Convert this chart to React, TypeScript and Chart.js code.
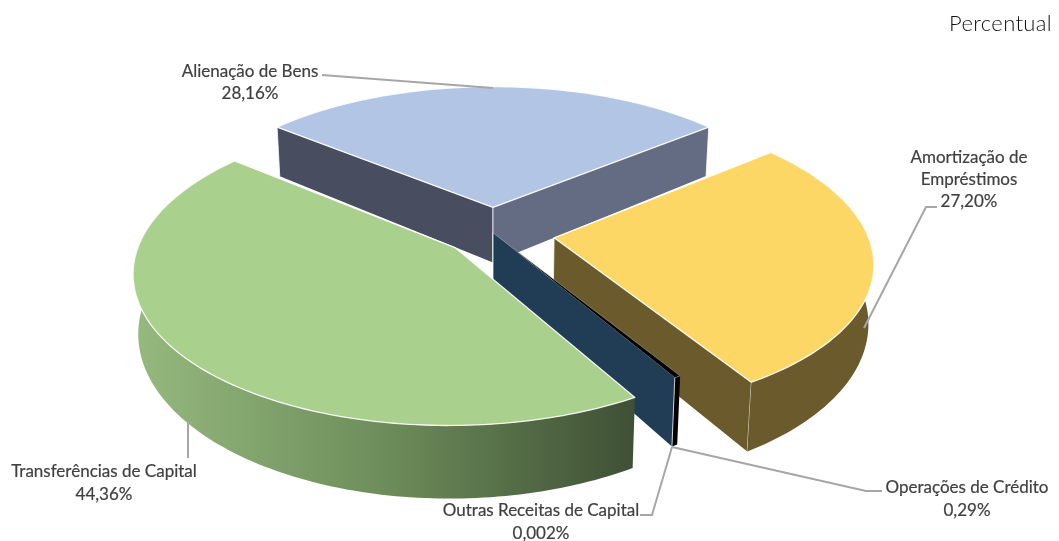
import React, { useEffect, useRef } from "react";
import { Chart, registerables } from "chart.js";

Chart.register(...registerables);

const categories = ["Alienação de Bens", "Amortização de Empréstimos", "Operações de Crédito", "Outras Receitas de Capital", "Transferências de Capital"];
const values = [28.16, 27.2, 0.29, 0.002, 44.36];
const percentLabels = ["28,16%", "27,20%", "0,29%", "0,002%", "44,36%"];
const explosion = [18, 19.7, 0, 0, 15.5];
const chartTitle = "Percentual";

const topColors = ["#b2c5e4", "#fcd765", "#000000", "#213d55", "#a9d08c"];
const wallStartColors = ["#484d5f", "#6b5a2b", "#000000", "#213d55", "#5f7a4c"];
const wallEndColors = ["#636c82", "#6b5a2b", "#000000", "#213d55", "#5f7a4c"];
const paintOrder = [0, 1, 2, 3, 4];

const CX = 493, CY = 233, A = 313, B = 146, H = 57, P = 0.15, QX = 0.014, PZ = 0.2;
const project = (u: number, v: number, z: number) => {
  const w = 1 - P * v;
  return {
    x: CX + (A * u) / (w + QX * z),
    y: CY + (B * v) / w + (H * z) / (1 - PZ * v),
  };
};

type Pt = { x: number; y: number };
const poly = (ctx: CanvasRenderingContext2D, pts: Pt[]) => {
  ctx.beginPath();
  pts.forEach((p, i) => (i ? ctx.lineTo(p.x, p.y) : ctx.moveTo(p.x, p.y)));
  ctx.closePath();
};

const labelLayout = [
  { lines: ["Alienação de Bens", percentLabels[0]], x: 250, y: [72, 94] },
  { lines: ["Amortização de", "Empréstimos", percentLabels[1]], x: 969, y: [158, 180, 202] },
  { lines: ["Operações de Crédito", percentLabels[2]], x: 967, y: [488, 511] },
  { lines: ["Outras Receitas de Capital", percentLabels[3]], x: 541, y: [511, 534] },
  { lines: ["Transferências de Capital", percentLabels[4]], x: 104, y: [472, 495] },
];
const leaders = [
  [[322, 75], [493, 88]],
  [[937, 207], [926, 207], [864, 328]],
  [[672, 447], [866, 491], [882, 491]],
  [[672, 447], [652, 515], [640, 515]],
  [[188, 422], [188, 458]],
];

const pie3d = {
  id: "pie3d",
  beforeDatasetDraw(chart: any) {
    const ctx: CanvasRenderingContext2D = chart.ctx;
    const arcs = chart.getDatasetMeta(0).data;
    ctx.save();
    ctx.lineJoin = "round";
    for (const i of paintOrder) {
      const arc = arcs[i];
      const off = (arc.options.offset || 0) / 100;
      const mid = (arc.startAngle + arc.endAngle) / 2;
      const ou = Math.cos(mid) * off, ov = Math.sin(mid) * off;
      const pt = (ang: number, r: number, z: number) =>
        project(ou + r * Math.cos(ang), ov + r * Math.sin(ang), z);
      const n = Math.max(1, Math.ceil((arc.endAngle - arc.startAngle) / 0.02));
      const angs: number[] = [];
      for (let k = 0; k <= n; k++) angs.push(arc.startAngle + ((arc.endAngle - arc.startAngle) * k) / n);

      // radial walls
      const wall = (ang: number, color: string) => {
        const q = [pt(0, 0, 0), pt(ang, 1, 0), pt(ang, 1, 1), pt(0, 0, 1)];
        poly(ctx, q);
        ctx.fillStyle = color;
        ctx.fill();
        ctx.strokeStyle = "rgba(255,255,255,0.75)";
        ctx.lineWidth = 1;
        ctx.beginPath();
        ctx.moveTo(q[0].x, q[0].y);
        ctx.lineTo(q[3].x, q[3].y);
        ctx.moveTo(q[1].x, q[1].y);
        ctx.lineTo(q[2].x, q[2].y);
        ctx.stroke();
      };
      if (i === 0) {
        wall(arc.startAngle, wallStartColors[i]);
        wall(arc.endAngle, wallEndColors[i]);
      } else if (i === 1 || i === 3) {
        wall(arc.endAngle, wallEndColors[i]);
      }
      // curved wall
      const strip = [...angs.map((a) => pt(a, 1, 0)), ...angs.slice().reverse().map((a) => pt(a, 1, 1))];
      if (i !== 0) {
        poly(ctx, strip);
        if (i === 4) {
          const g = ctx.createLinearGradient(134, 0, 634, 0);
          g.addColorStop(0, "#96b97f");
          g.addColorStop(0.5, "#6d8d5a");
          g.addColorStop(1, "#3f5035");
          ctx.fillStyle = g;
        } else {
          ctx.fillStyle = wallEndColors[i];
        }
        ctx.fill();
      }
      // top face
      poly(ctx, [pt(0, 0, 0), ...angs.map((a) => pt(a, 1, 0))]);
      ctx.fillStyle = topColors[i];
      ctx.fill();
      if (i !== 3) {
        ctx.strokeStyle = i === 2 ? "rgba(200,200,200,0.8)" : "rgba(255,255,255,0.9)";
        ctx.lineWidth = i === 2 ? 0.6 : 1.3;
        ctx.stroke();
      }
    }
    ctx.restore();
    return false;
  },
  afterDraw(chart: any) {
    const ctx: CanvasRenderingContext2D = chart.ctx;
    ctx.save();
    ctx.strokeStyle = "#a6a6a6";
    ctx.lineWidth = 2;
    for (const l of leaders) {
      ctx.beginPath();
      l.forEach((p, i) => (i ? ctx.lineTo(p[0], p[1]) : ctx.moveTo(p[0], p[1])));
      ctx.stroke();
    }
    ctx.fillStyle = "#404040";
    ctx.strokeStyle = "#404040";
    ctx.lineWidth = 0.2;
    ctx.textAlign = "center";
    ctx.textBaseline = "middle";
    ctx.font = "17px Lato";
    for (const l of labelLayout)
      l.lines.forEach((t, i) => {
        ctx.fillText(t, l.x, l.y[i]);
        ctx.strokeText(t, l.x, l.y[i]);
      });
    ctx.font = "300 22px Lato";
    (ctx as any).letterSpacing = "0.35px";
    ctx.textAlign = "right";
    ctx.fillStyle = "#111111";
    ctx.fillText(chartTitle, 1052, 24);
    ctx.restore();
  },
};

export default function App() {
  const ref = useRef<HTMLCanvasElement>(null);
  useEffect(() => {
    document.body.style.margin = "0";
    const chart = new Chart(ref.current!, {
      type: "pie",
      data: {
        labels: categories,
        datasets: [{ data: values, backgroundColor: topColors, offset: explosion, borderWidth: 0 }],
      },
      options: {
        animation: false,
        responsive: false,
        rotation: -50.7,
        plugins: { legend: { display: false }, tooltip: { enabled: false } },
      },
      plugins: [pie3d],
    } as any);
    return () => chart.destroy();
  }, []);
  return <canvas ref={ref} width={1059} height={541} style={{ display: "block", background: "#fff" }} />;
}
